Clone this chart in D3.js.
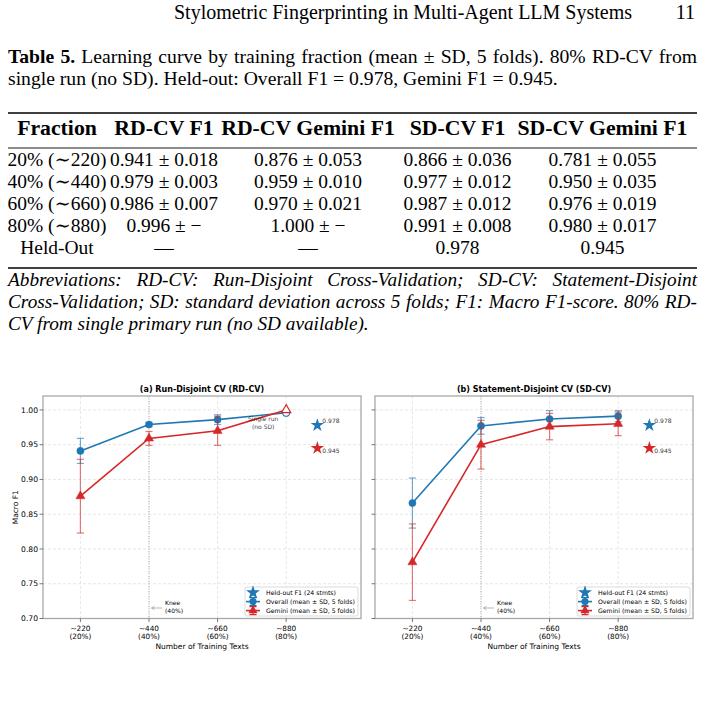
<!DOCTYPE html>
<html>
<head>
<meta charset="utf-8">
<script src="https://cdn.jsdelivr.net/npm/d3@7"></script>
<style>
  body { margin: 0; background: #fff; }
  #page text { font-family: "Liberation Serif", "DejaVu Serif", serif; fill: #000; }
  #page .plot text { font-family: "DejaVu Sans", sans-serif; }
</style>
</head>
<body>
<svg id="page" width="705" height="707"></svg>
<script>
// ---------- data ----------
const runningTitle = "Stylometric Fingerprinting in Multi-Agent LLM Systems";
const pageNumber = "11";

const captionLines = [
  "Learning curve by training fraction (mean ± SD, 5 folds). 80% RD-CV from",
  "single run (no SD). Held-out: Overall F1 = 0.978, Gemini F1 = 0.945."
];

const tableColumns = ["Fraction", "RD-CV F1", "RD-CV Gemini F1", "SD-CV F1", "SD-CV Gemini F1"];
const tableRows = [
  ["20% (∼220)", "0.941 ± 0.018", "0.876 ± 0.053", "0.866 ± 0.036", "0.781 ± 0.055"],
  ["40% (∼440)", "0.979 ± 0.003", "0.959 ± 0.010", "0.977 ± 0.012", "0.950 ± 0.035"],
  ["60% (∼660)", "0.986 ± 0.007", "0.970 ± 0.021", "0.987 ± 0.012", "0.976 ± 0.019"],
  ["80% (∼880)", "0.996 ± −", "1.000 ± −", "0.991 ± 0.008", "0.980 ± 0.017"],
  ["Held-Out", "—", "—", "0.978", "0.945"]
];

const footnoteLines = [
  "Abbreviations: RD-CV: Run-Disjoint Cross-Validation; SD-CV: Statement-Disjoint",
  "Cross-Validation; SD: standard deviation across 5 folds; F1: Macro F1-score. 80% RD-",
  "CV from single primary run (no SD available)."
];

// chart data
const trainN = [220, 440, 660, 880];
const tickTop = ["~220", "~440", "~660", "~880"];
const tickBottom = ["(20%)", "(40%)", "(60%)", "(80%)"];
const yTicks = [0.70, 0.75, 0.80, 0.85, 0.90, 0.95, 1.00];

const rdOverallMean = [0.941, 0.979, 0.986, 0.996];
const rdOverallSd   = [0.018, 0.003, 0.007, null];
const rdGeminiMean  = [0.876, 0.959, 0.970, 1.000];
const rdGeminiSd    = [0.053, 0.010, 0.021, null];

const sdOverallMean = [0.866, 0.977, 0.987, 0.991];
const sdOverallSd   = [0.036, 0.012, 0.012, 0.008];
const sdGeminiMean  = [0.781, 0.950, 0.976, 0.980];
const sdGeminiSd    = [0.055, 0.035, 0.019, 0.017];

const heldOutX = 980;
const heldOutOverall = 0.978;
const heldOutGemini = 0.945;
const kneeN = 440;

const legendLabels = ["Held-out F1 (24 stmts)", "Overall (mean ± SD, 5 folds)", "Gemini (mean ± SD, 5 folds)"];

const blue = "#1f77b4";
const red = "#d62728";

// ---------- helpers ----------
const svg = d3.select("#page");

function fitWidth(t, w) {
  const fs = parseFloat(t.attr("font-size"));
  const len = t.node().getComputedTextLength();
  const nfs = fs * w / len;
  t.attr("font-size", nfs.toFixed(2));
  return nfs;
}

function justify(t, w) {
  const len = t.node().getComputedTextLength();
  const n = (t.text().match(/ /g) || []).length;
  t.attr("word-spacing", ((w - len) / n).toFixed(2));
}

// ---------- running head ----------
const head = svg.append("text").attr("x", 174).attr("y", 19).attr("font-size", 17).text(runningTitle);
const headFs = fitWidth(head, 458);
svg.append("text").attr("x", 695).attr("y", 19).attr("text-anchor", "end")
  .attr("font-size", headFs).text(pageNumber);

// ---------- caption ----------
const cap2 = svg.append("text").attr("x", 8).attr("y", 85).attr("font-size", 17).text(captionLines[1]);
const capFs = fitWidth(cap2, 550);
const cap1 = svg.append("text").attr("x", 8).attr("y", 63).attr("font-size", capFs);
cap1.append("tspan").attr("font-weight", "bold").text("Table 5.");
cap1.append("tspan").text(" " + captionLines[0]);
justify(cap1, 689);

// ---------- table ----------
const colX = [57, 164, 308, 457.5, 602.5];
svg.append("line").attr("x1", 8).attr("x2", 697).attr("y1", 113).attr("y2", 113)
  .attr("stroke", "#000").attr("stroke-width", 1.6);
svg.append("line").attr("x1", 8).attr("x2", 697).attr("y1", 148).attr("y2", 148)
  .attr("stroke", "#000").attr("stroke-width", 0.9);
svg.append("line").attr("x1", 8).attr("x2", 697).attr("y1", 268).attr("y2", 268)
  .attr("stroke", "#000").attr("stroke-width", 1.6);

const probeH = svg.append("text").attr("font-size", 17).attr("font-weight", "bold").text(tableColumns[4]);
const headerFs = fitWidth(probeH, 170);
probeH.remove();
svg.selectAll(".th").data(tableColumns).join("text")
  .attr("class", "th")
  .attr("x", (d, i) => colX[i]).attr("y", 135)
  .attr("text-anchor", "middle").attr("font-weight", "bold")
  .attr("font-size", headerFs).text(d => d);

const probeD = svg.append("text").attr("font-size", 17).text(tableRows[0][1]);
const cellFs = fitWidth(probeD, 108);
probeD.remove();
tableRows.forEach((row, r) => {
  svg.selectAll(".td" + r).data(row).join("text")
    .attr("x", (d, i) => colX[i]).attr("y", 166 + r * 22)
    .attr("text-anchor", "middle").attr("font-size", cellFs).text(d => d);
});

// ---------- footnote ----------
const fnSizes = [0, 1].map(i => {
  const t = svg.append("text").attr("font-size", 17).attr("font-style", "italic").text(footnoteLines[i]);
  const fs = fitWidth(t, 682);
  t.remove();
  return fs;
});
const fnFs = Math.min(...fnSizes);
footnoteLines.forEach((s, i) => {
  const t = svg.append("text").attr("x", 8).attr("y", 286 + i * 22).attr("font-size", fnFs)
    .attr("font-style", "italic").text(s);
  if (i < 2) justify(t, 689);
});

// ---------- chart ----------
const plotTop = 396, plotBottom = 618.5;
const y = d3.scaleLinear().domain([0.70, 1.02]).range([plotBottom, plotTop]);

const panels = [
  { x0: 43, x1: 361, title: "(a) Run-Disjoint CV (RD-CV)",
    overall: rdOverallMean, overallSd: rdOverallSd, gemini: rdGeminiMean, geminiSd: rdGeminiSd,
    yLabels: true, singleRun: true },
  { x0: 375, x1: 693, title: "(b) Statement-Disjoint CV (SD-CV)",
    overall: sdOverallMean, overallSd: sdOverallSd, gemini: sdGeminiMean, geminiSd: sdGeminiSd,
    yLabels: false, singleRun: false }
];

const plot = svg.append("g").attr("class", "plot");

const circle = d3.symbol().type(d3.symbolCircle).size(40);
const tri = d3.symbol().type(d3.symbolTriangle).size(36);
const star = d3.symbol().type(d3.symbolStar).size(56);
const starBig = d3.symbol().type(d3.symbolStar).size(60);

panels.forEach(p => {
  const g = plot.append("g");
  const x = d3.scaleLinear().domain([100, 1120]).range([p.x0, p.x1]);

  // grid
  g.selectAll(".hg").data(yTicks).join("line")
    .attr("x1", p.x0).attr("x2", p.x1).attr("y1", d => y(d)).attr("y2", d => y(d))
    .attr("stroke", "#dcdcdc").attr("stroke-width", 0.7).attr("stroke-dasharray", "3,2");
  g.selectAll(".vg").data(trainN).join("line")
    .attr("x1", d => x(d)).attr("x2", d => x(d)).attr("y1", plotTop).attr("y2", plotBottom)
    .attr("stroke", "#dcdcdc").attr("stroke-width", 0.7).attr("stroke-dasharray", "3,2");

  // knee line
  g.append("line").attr("x1", x(kneeN)).attr("x2", x(kneeN)).attr("y1", plotTop).attr("y2", plotBottom)
    .attr("stroke", "#9a9a9a").attr("stroke-width", 0.8).attr("stroke-dasharray", "1,1.5");

  // spines
  g.append("rect").attr("x", p.x0).attr("y", plotTop).attr("width", p.x1 - p.x0).attr("height", plotBottom - plotTop)
    .attr("fill", "none").attr("stroke", "#a8a8a8").attr("stroke-width", 1.3);

  // y ticks
  g.selectAll(".yt").data(yTicks).join("line")
    .attr("x1", p.x0 - 3.5).attr("x2", p.x0).attr("y1", d => y(d)).attr("y2", d => y(d))
    .attr("stroke", "#555").attr("stroke-width", 0.8);
  if (p.yLabels) {
    g.selectAll(".yl").data(yTicks).join("text")
      .attr("x", p.x0 - 5).attr("y", d => y(d)).attr("dy", "0.35em")
      .attr("text-anchor", "end").attr("font-size", 7.6).attr("fill", "#222")
      .text(d => d.toFixed(2));
    g.append("text").attr("transform", `translate(18,${(plotTop + plotBottom) / 2}) rotate(-90)`)
      .attr("text-anchor", "middle").attr("font-size", 7.5).attr("fill", "#222").text("Macro F1");
  }

  // x ticks
  g.selectAll(".xt").data(trainN).join("line")
    .attr("x1", d => x(d)).attr("x2", d => x(d)).attr("y1", plotBottom).attr("y2", plotBottom + 3.5)
    .attr("stroke", "#555").attr("stroke-width", 0.8);
  g.selectAll(".xl1").data(trainN).join("text")
    .attr("x", d => x(d)).attr("y", 630.5).attr("text-anchor", "middle")
    .attr("font-size", 7.3).attr("fill", "#222").text((d, i) => tickTop[i]);
  g.selectAll(".xl2").data(trainN).join("text")
    .attr("x", d => x(d)).attr("y", 638.7).attr("text-anchor", "middle")
    .attr("font-size", 7.3).attr("fill", "#222").text((d, i) => tickBottom[i]);
  g.append("text").attr("x", (p.x0 + p.x1) / 2).attr("y", 649).attr("text-anchor", "middle")
    .attr("font-size", 7.5).attr("fill", "#222").text("Number of Training Texts");

  // title
  g.append("text").attr("x", (p.x0 + p.x1) / 2).attr("y", 392).attr("text-anchor", "middle")
    .attr("font-size", 8).attr("font-weight", "bold").text(p.title);

  // series
  const line = d3.line().x((d, i) => x(trainN[i])).y(d => y(d));
  [[p.overall, p.overallSd, blue, circle], [p.gemini, p.geminiSd, red, tri]].forEach(([m, sd, col, sym]) => {
    m.forEach((v, i) => {
      if (sd[i] == null) return;
      const cx = x(trainN[i]);
      g.append("line").attr("x1", cx).attr("x2", cx).attr("y1", y(v - sd[i])).attr("y2", y(v + sd[i]))
        .attr("stroke", col).attr("stroke-width", 1.2).attr("opacity", 0.6);
      [v - sd[i], v + sd[i]].forEach(e => {
        g.append("line").attr("x1", cx - 3.6).attr("x2", cx + 3.6).attr("y1", y(e)).attr("y2", y(e))
          .attr("stroke", col).attr("stroke-width", 1.2).attr("opacity", 0.6);
      });
    });
    g.append("path").datum(m).attr("d", line).attr("fill", "none")
      .attr("stroke", col).attr("stroke-width", 1.6);
    g.selectAll(null).data(m).join("path")
      .attr("transform", (d, i) => `translate(${x(trainN[i])},${y(d)})`)
      .attr("d", sym)
      .attr("fill", (d, i) => sd[i] == null ? "#fff" : col)
      .attr("stroke", col).attr("stroke-width", (d, i) => sd[i] == null ? 1.2 : 0.5);
  });

  // held-out stars
  [[heldOutOverall, blue, -2.5], [heldOutGemini, red, 4.5]].forEach(([v, col, dy]) => {
    g.append("path").attr("transform", `translate(${x(heldOutX)},${y(v)})`).attr("d", star).attr("fill", col);
    g.append("text").attr("x", x(heldOutX) + 5).attr("y", y(v) + dy)
      .attr("font-size", 6).attr("fill", col).attr("opacity", 0.8).text(v.toFixed(3));
  });

  // single-run note
  if (p.singleRun) {
    const nx = x(880) - 23;
    g.append("text").attr("x", nx).attr("y", 421).attr("text-anchor", "middle")
      .attr("font-size", 6).attr("fill", blue).attr("opacity", 0.75).text("Single run");
    g.append("text").attr("x", nx).attr("y", 428.5).attr("text-anchor", "middle")
      .attr("font-size", 6).attr("fill", blue).attr("opacity", 0.75).text("(no SD)");
  }

  // knee annotation
  const kx = x(kneeN);
  g.append("line").attr("x1", kx + 13).attr("x2", kx + 2.5).attr("y1", 608).attr("y2", 608)
    .attr("stroke", "#999").attr("stroke-width", 0.7);
  g.append("path").attr("d", `M${kx + 5.5},606.2 L${kx + 2.5},608 L${kx + 5.5},609.8`)
    .attr("fill", "none").attr("stroke", "#999").attr("stroke-width", 0.7);
  g.append("text").attr("x", kx + 16).attr("y", 605.2).attr("font-size", 6).attr("fill", "#999").text("Knee");
  g.append("text").attr("x", kx + 16).attr("y", 612.5).attr("font-size", 6).attr("fill", "#999").text("(40%)");

  // legend
  const lx = p.x1 - 116, ly = 587;
  const lg = g.append("g");
  lg.append("rect").attr("x", lx).attr("y", ly).attr("width", 113).attr("height", 29).attr("rx", 2)
    .attr("fill", "#fff").attr("fill-opacity", 0.85).attr("stroke", "#cccccc").attr("stroke-width", 0.7);
  const rowY = [592.6, 601.6, 610.6];
  const mx = lx + 8;
  lg.append("path").attr("transform", `translate(${mx},${rowY[0]})`).attr("d", starBig).attr("fill", blue);
  [[blue, circle, rowY[1]], [red, tri, rowY[2]]].forEach(([col, sym, ry]) => {
    lg.append("line").attr("x1", mx - 7).attr("x2", mx + 7).attr("y1", ry).attr("y2", ry)
      .attr("stroke", col).attr("stroke-width", 1.6);
    lg.append("line").attr("x1", mx).attr("x2", mx).attr("y1", ry - 4).attr("y2", ry + 4)
      .attr("stroke", col).attr("stroke-width", 1.2);
    [ry - 4, ry + 4].forEach(e => lg.append("line").attr("x1", mx - 3.5).attr("x2", mx + 3.5)
      .attr("y1", e).attr("y2", e).attr("stroke", col).attr("stroke-width", 1.2));
    lg.append("path").attr("transform", `translate(${mx},${ry})`).attr("d", sym).attr("fill", col);
  });
  lg.selectAll("text").data(legendLabels).join("text")
    .attr("x", lx + 21).attr("y", (d, i) => rowY[i]).attr("dy", "0.35em")
    .attr("font-size", 6.2).attr("fill", "#222").text(d => d);
});
</script>
</body>
</html>
